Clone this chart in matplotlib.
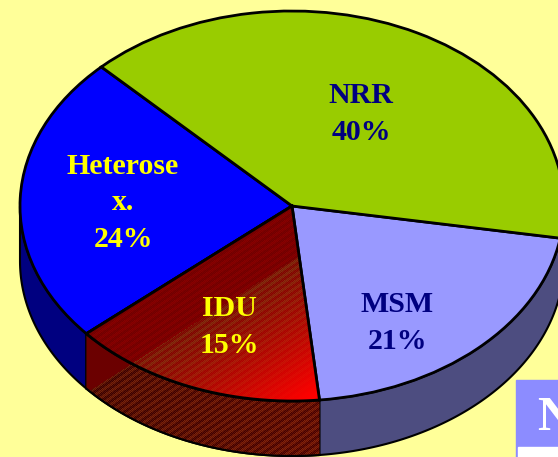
import matplotlib
matplotlib.use("Agg")
import matplotlib.pyplot as plt
import numpy as np

labels = ["Heterose\nx.", "IDU", "MSM", "NRR"]
percent_labels = ["24%", "15%", "21%", "40%"]
shares = [24, 15.25, 20.75, 40]
top_colors = ["#0000FF", "#800000", "#9999FF", "#99CC00"]
side_colors = ["#000080", "#5A0000", "#4D4D80", "#4D6600"]
text_colors = ["#FFFF00", "#FFFF00", "#000080", "#000080"]
label_pos = [(123, 203), (229, 327), (397, 323), (361, 114)]

W, H = 558, 457
CX, CY, RX, RY = 292, 206, 272, 195
DEPTH = 55 / RY
START = 134.5


def to_data(x, y):
    return (x - CX) / RX, (CY - y) / RY


def red_shading(top=True):
    xx, yy = np.meshgrid(np.arange(W) + 0.5, np.arange(H) + 0.5)
    u = ((xx - 130) * 103 + (yy - 365) * 160) / 190
    stripe = (np.floor((xx + yy * 1.5) / 5) % 2) * 0.5 + (np.floor(xx + yy) % 2) * 0.5
    img = np.zeros((H, W, 3))
    if top:
        t = np.clip(u / 125, 0, 1) ** 1.3
        img[..., 0] = np.where(u < 0, 0.44 + 0.10 * stripe, 0.50 + 0.50 * t)
        img[..., 1] = (u >= 0) * (0.20 * (1 - t) * stripe)
        img[..., 2] = (u >= 0) * (0.06 * (1 - t) * stripe)
    else:
        v = np.clip((xx - 88) / 234, 0, 1)
        img[..., 0] = np.where(u < 0, 0.42, 0.22 + 0.24 * stripe + 0.06 * v)
        img[..., 1] = np.where(u < 0, 0.0, 0.14 * stripe)
        img[..., 2] = np.where(u < 0, 0.0, 0.04 * stripe)
    return img


fig = plt.figure(figsize=(W / 100, H / 100), dpi=100, facecolor="#FFFF99")
ax = fig.add_axes([0, 0, 1, 1])

wedges, _ = ax.pie(
    shares,
    colors=top_colors,
    startangle=START,
    counterclock=True,
    wedgeprops={"edgecolor": "black", "linewidth": 2, "zorder": 3},
)

# side walls, back to front
ends = START + np.cumsum(shares) * 3.6
starts = ends - np.array(shares) * 3.6
extent = (*to_data(0, 0)[:1], *to_data(W, 0)[:1], *to_data(0, H)[1:], *to_data(0, 0)[1:])
for a, b, col, name in zip(starts, ends, side_colors, labels):
    t = np.radians(np.linspace(a, b, 200))
    keep = np.sin(t) < 0
    if not keep.any():
        continue
    t = t[keep]
    xs = np.r_[np.cos(t), np.cos(t[::-1])]
    ys = np.r_[np.sin(t), np.sin(t[::-1]) - DEPTH]
    patch = ax.fill(xs, ys, color=col, ec="black", lw=1.5, zorder=2)[0]
    if name == "IDU":
        im = ax.imshow(red_shading(False), extent=extent, aspect="auto", zorder=2.1, interpolation="nearest")
        im.set_clip_path(patch)
        ax.plot(xs[len(t):], ys[len(t):], color="black", lw=1.5, zorder=2.2)

# gradient on the IDU slice
idu = wedges[labels.index("IDU")]
im = ax.imshow(red_shading(True), extent=extent, aspect="auto", zorder=3.1, interpolation="nearest")
im.set_clip_path(idu)
t = np.radians(np.linspace(starts[1], ends[1], 100))
ax.plot(np.r_[0, np.cos(t), 0], np.r_[0, np.sin(t), 0], color="black", lw=2, zorder=3.2)

for name, pct, col, (x, y) in zip(labels, percent_labels, text_colors, label_pos):
    px, py = to_data(x, y)
    ax.text(px, py, f"{name}\n{pct}", color=col, ha="center", va="center", fontsize=21.5,
            family="Liberation Serif", weight="bold", linespacing=1.43, zorder=5)

# cropped legend box in the corner
bx0, by0 = to_data(516, 380)
bx1, by1 = to_data(W, H)
ax.fill([bx0, bx1, bx1, bx0], [by0, by0, by1, by1], color="#8C8CFF", zorder=6)
wx0, wy0 = to_data(518, 447)
ax.fill([wx0, bx1, bx1, wx0], [wy0, wy0, by1, by1], color="white", zorder=7)
nx, ny = to_data(537, 430)
ax.text(nx, ny, "N", color="white", fontsize=35, family="Liberation Serif", weight="bold",
        ha="left", va="baseline", zorder=8, clip_on=True)

ax.set_aspect("auto")
ax.set_xlim(to_data(0, 0)[0], to_data(W, 0)[0])
ax.set_ylim(to_data(0, H)[1], to_data(0, 0)[1])
ax.axis("off")
fig.savefig("out.png", dpi=100, facecolor=fig.get_facecolor())
